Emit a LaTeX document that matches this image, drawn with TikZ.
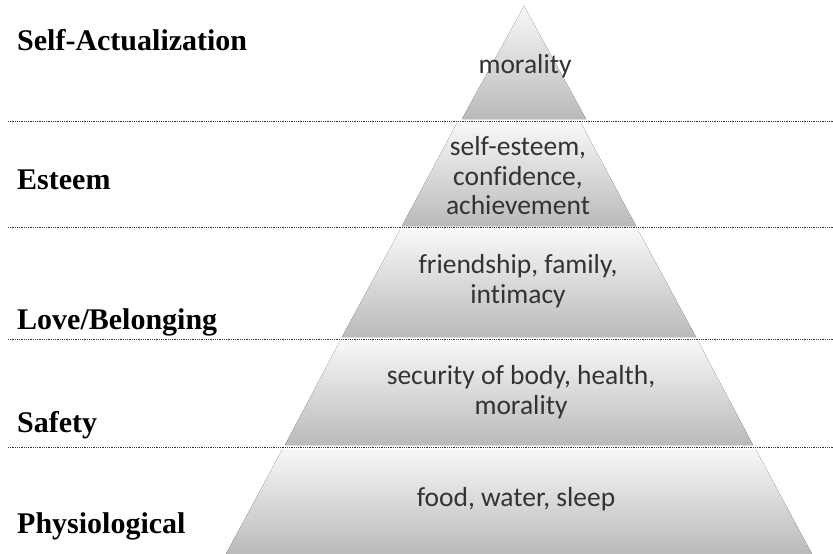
\documentclass[tikz,border=0pt]{standalone}
\usepackage{fontspec}
\setmainfont{Liberation Serif}
\newfontfamily\calfont[Ligatures={NoCommon}]{Carlito}
\begin{document}
\begin{tikzpicture}[x=1pt,y=-1pt,
  seg/.style={top color=black!3, bottom color=black!27, draw=none},
  sep/.style={draw=black!80, line width=1pt, dash pattern=on 1pt off 0.8pt},
  lvl/.style={anchor=base west, inner sep=0pt, font=\fontsize{30}{32}\selectfont\bfseries},
  inner/.style={align=center, inner sep=0pt, text=black!80, font=\calfont\fontsize{27.5}{29.5}\selectfont}]
\useasboundingbox (0,0) rectangle (833,554);
% pyramid segments
\fill[seg] (524,6) -- (586,119) -- (462,119) -- cycle;
\fill[seg] (457,123) -- (581,123) -- (636,226) -- (402,226) -- cycle;
\fill[seg] (400,230) -- (638,230) -- (696,337) -- (342,337) -- cycle;
\fill[seg] (340,341) -- (698,341) -- (753,445) -- (285,445) -- cycle;
\fill[seg] (282.5,449) -- (755.5,449) -- (812,554) -- (226,554) -- cycle;
% separators
\coordinate (l1a) at (8,121); \coordinate (l1b) at (833,121);
\coordinate (l2a) at (8,227); \coordinate (l2b) at (833,227);
\coordinate (l3a) at (8,339); \coordinate (l3b) at (833,339);
\coordinate (l4a) at (8,447); \coordinate (l4b) at (833,447);
\draw[sep] (l1a) -- (l1b);
\draw[sep] (l2a) -- (l2b);
\draw[sep] (l3a) -- (l3b);
\draw[sep] (l4a) -- (l4b);
% level labels
\node[lvl] (sa) at (17,50) {Self-Actualization};
\node[lvl] (es) at (17,189) {Esteem};
\node[lvl] (lb) at (17,329) {Love/Belonging};
\node[lvl] (sf) at (17,432) {Safety};
\node[lvl] (ph) at (17,533) {Physiological};
% inner texts
\node[inner] (t1) at (525,66) {morality};
\node[inner] (t2) at (518,176) {self-esteem,\\confidence,\\achievement};
\node[inner] (t3) at (518,281) {friendship, family,\\intimacy};
\node[inner] (t4) at (521,392) {security of body, health,\\morality};
\node[inner] (t5) at (516,499) {food, water, sleep};
\end{tikzpicture}
\end{document}
